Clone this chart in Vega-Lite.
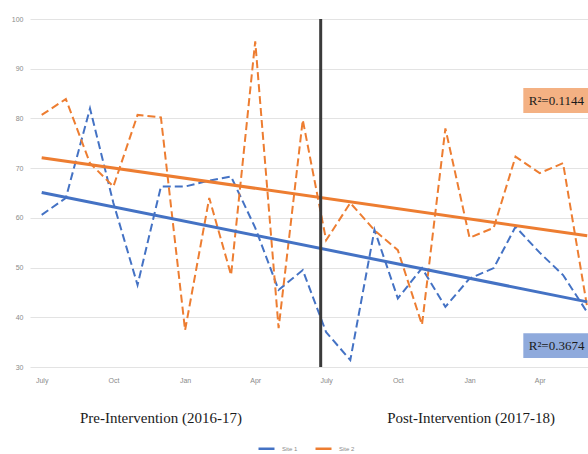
{
  "$schema": "https://vega.github.io/schema/vega-lite/v6.json",
  "autosize": {"type": "none"},
  "padding": {"left": 30, "top": 19, "right": 0, "bottom": 87},
  "width": 558,
  "height": 348,
  "background": "white",
  "config": {"view": {"stroke": null}},
  "datasets": {
    "sites": [
      {"month": "2016-07-01", "site": "Site 1", "value": 60.6},
      {"month": "2016-08-01", "site": "Site 1", "value": 64},
      {"month": "2016-09-01", "site": "Site 1", "value": 82},
      {"month": "2016-10-01", "site": "Site 1", "value": 63},
      {"month": "2016-11-01", "site": "Site 1", "value": 46.5},
      {"month": "2016-12-01", "site": "Site 1", "value": 66.3},
      {"month": "2017-01-01", "site": "Site 1", "value": 66.3},
      {"month": "2017-02-01", "site": "Site 1", "value": 67.5},
      {"month": "2017-03-01", "site": "Site 1", "value": 68.3},
      {"month": "2017-04-01", "site": "Site 1", "value": 58},
      {"month": "2017-05-01", "site": "Site 1", "value": 45.5},
      {"month": "2017-06-01", "site": "Site 1", "value": 49.5},
      {"month": "2017-07-01", "site": "Site 1", "value": 37},
      {"month": "2017-08-01", "site": "Site 1", "value": 31.4},
      {"month": "2017-09-01", "site": "Site 1", "value": 57.6},
      {"month": "2017-10-01", "site": "Site 1", "value": 43.8},
      {"month": "2017-11-01", "site": "Site 1", "value": 49.9},
      {"month": "2017-12-01", "site": "Site 1", "value": 42.1},
      {"month": "2018-01-01", "site": "Site 1", "value": 47.8},
      {"month": "2018-02-01", "site": "Site 1", "value": 49.9},
      {"month": "2018-03-01", "site": "Site 1", "value": 58.2},
      {"month": "2018-04-01", "site": "Site 1", "value": 53},
      {"month": "2018-05-01", "site": "Site 1", "value": 48.5},
      {"month": "2018-06-01", "site": "Site 1", "value": 41},
      {"month": "2016-07-01", "site": "Site 2", "value": 80.7},
      {"month": "2016-08-01", "site": "Site 2", "value": 83.9},
      {"month": "2016-09-01", "site": "Site 2", "value": 71},
      {"month": "2016-10-01", "site": "Site 2", "value": 66.3},
      {"month": "2016-11-01", "site": "Site 2", "value": 80.7},
      {"month": "2016-12-01", "site": "Site 2", "value": 80.2},
      {"month": "2017-01-01", "site": "Site 2", "value": 37.4},
      {"month": "2017-02-01", "site": "Site 2", "value": 64},
      {"month": "2017-03-01", "site": "Site 2", "value": 48.5},
      {"month": "2017-04-01", "site": "Site 2", "value": 95.5},
      {"month": "2017-05-01", "site": "Site 2", "value": 37.8},
      {"month": "2017-06-01", "site": "Site 2", "value": 79.7},
      {"month": "2017-07-01", "site": "Site 2", "value": 55.5},
      {"month": "2017-08-01", "site": "Site 2", "value": 63},
      {"month": "2017-09-01", "site": "Site 2", "value": 57.5},
      {"month": "2017-10-01", "site": "Site 2", "value": 53.5},
      {"month": "2017-11-01", "site": "Site 2", "value": 38.5},
      {"month": "2017-12-01", "site": "Site 2", "value": 78},
      {"month": "2018-01-01", "site": "Site 2", "value": 56},
      {"month": "2018-02-01", "site": "Site 2", "value": 58},
      {"month": "2018-03-01", "site": "Site 2", "value": 72.3},
      {"month": "2018-04-01", "site": "Site 2", "value": 69},
      {"month": "2018-05-01", "site": "Site 2", "value": 71},
      {"month": "2018-06-01", "site": "Site 2", "value": 42}
    ],
    "trend": [
      {"month": "2016-07-01", "site": "Site 1", "value": 65.1},
      {"month": "2018-06-01", "site": "Site 1", "value": 43.1},
      {"month": "2016-07-01", "site": "Site 2", "value": 72.1},
      {"month": "2018-06-01", "site": "Site 2", "value": 56.4}
    ],
    "boxes": [
      {"start": "2018-03-11", "end": "2018-07-20", "top": 86.1, "bottom": 81.1, "textx": "2018-03-18", "texty": 83.6, "label": "R²=0.1144", "fill": "orange"},
      {"start": "2018-03-11", "end": "2018-07-20", "top": 36.8, "bottom": 31.8, "textx": "2018-03-18", "texty": 34.3, "label": "R²=0.3674", "fill": "blue"}
    ],
    "periods": [
      {"month": "2016-12-01", "level": 19.7, "label": "Pre-Intervention (2016-17)"},
      {"month": "2018-01-03", "level": 19.7, "label": "Post-Intervention (2017-18)"}
    ],
    "divider": [
      {"month": "2017-06-24", "low": 30, "high": 100}
    ]
  },
  "layer": [
    {
      "data": {"name": "sites"},
      "mark": {"type": "line", "strokeWidth": 2, "strokeDash": [8, 4], "clip": true},
      "encoding": {
        "x": {
          "field": "month", "type": "temporal",
          "scale": {"domain": ["2016-06-16", "2018-06-02"]},
          "axis": {
            "title": null, "grid": false, "domain": false, "ticks": false,
            "values": ["2016-07-01", "2016-10-01", "2017-01-01", "2017-04-01", "2017-07-01", "2017-10-01", "2018-01-01", "2018-04-01"],
            "labelExpr": "timeFormat(datum.value, '%b') == 'Jul' ? 'July' : timeFormat(datum.value, '%b')",
            "labelFont": "Liberation Sans", "labelFontSize": 7, "labelColor": "#8a8a8a",
            "labelPadding": 9, "labelAlign": "center"
          }
        },
        "y": {
          "field": "value", "type": "quantitative",
          "scale": {"domain": [30, 100], "nice": false, "zero": false},
          "axis": {
            "title": null, "values": [30, 40, 50, 60, 70, 80, 90, 100],
            "grid": true, "gridColor": "#e3e3e3", "gridWidth": 1,
            "domain": false, "ticks": false,
            "labelFont": "Liberation Sans", "labelFontSize": 7, "labelColor": "#8a8a8a",
            "labelPadding": 7
          }
        },
        "color": {
          "field": "site", "type": "nominal",
          "scale": {"domain": ["Site 1", "Site 2"], "range": ["#4472C4", "#ED7D31"]},
          "legend": {
            "title": null, "orient": "none", "direction": "horizontal",
            "legendX": 227, "legendY": 420,
            "symbolType": "stroke", "symbolSize": 256, "symbolStrokeWidth": 2.5, "symbolDash": [],
            "labelFont": "Liberation Sans", "labelFontSize": 6, "labelColor": "#8a8a8a",
            "labelOffset": 6, "columnPadding": 12
          }
        }
      }
    },
    {
      "data": {"name": "trend"},
      "mark": {"type": "line", "strokeWidth": 3},
      "encoding": {
        "x": {"field": "month", "type": "temporal"},
        "y": {"field": "value", "type": "quantitative"},
        "color": {"field": "site", "type": "nominal"}
      }
    },
    {
      "data": {"name": "divider"},
      "mark": {"type": "rule", "color": "#3a3a3a", "strokeWidth": 3},
      "encoding": {
        "x": {"field": "month", "type": "temporal"},
        "y": {"field": "low", "type": "quantitative"},
        "y2": {"field": "high"}
      }
    },
    {
      "data": {"name": "boxes"},
      "mark": {"type": "rect", "clip": false},
      "encoding": {
        "x": {"field": "start", "type": "temporal"},
        "x2": {"field": "end"},
        "y": {"field": "top", "type": "quantitative"},
        "y2": {"field": "bottom"},
        "fill": {
          "field": "fill", "type": "nominal",
          "scale": {"domain": ["orange", "blue"], "range": ["#F4B183", "#8FAADC"]},
          "legend": null
        }
      }
    },
    {
      "data": {"name": "boxes"},
      "mark": {"type": "text", "align": "left", "baseline": "middle", "font": "Liberation Serif", "fontSize": 13, "color": "#1a1a1a"},
      "encoding": {
        "x": {"field": "textx", "type": "temporal"},
        "y": {"field": "texty", "type": "quantitative"},
        "text": {"field": "label"}
      }
    },
    {
      "data": {"name": "periods"},
      "mark": {"type": "text", "align": "center", "baseline": "middle", "font": "Liberation Serif", "fontSize": 15, "color": "#1a1a1a"},
      "encoding": {
        "x": {"field": "month", "type": "temporal"},
        "y": {"field": "level", "type": "quantitative"},
        "text": {"field": "label"}
      }
    }
  ]
}
